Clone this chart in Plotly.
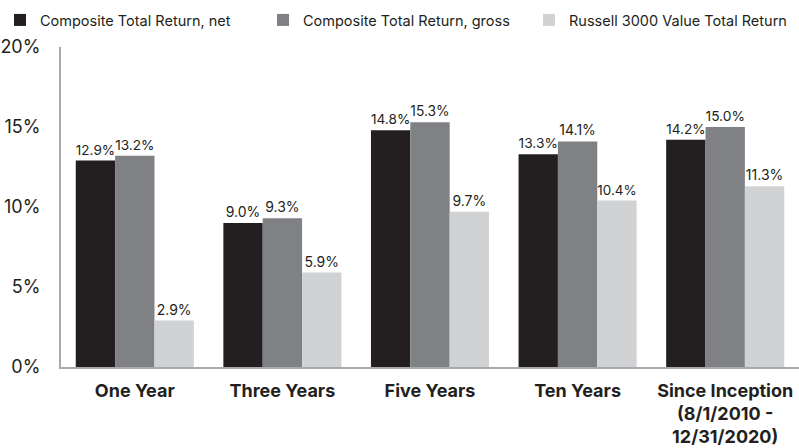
import plotly.graph_objects as go

categories = ["One Year", "Three Years", "Five Years", "Ten Years",
              "Since Inception<br>(8/1/2010 -<br>12/31/2020)"]
series_names = ["Composite Total Return, net", "Composite Total Return, gross",
                "Russell 3000 Value Total Return"]
net = [12.9, 9.0, 14.8, 13.3, 14.2]
gross = [13.2, 9.3, 15.3, 14.1, 15.0]
russell = [2.9, 5.9, 9.7, 10.4, 11.3]
colors = ["#231f20", "#808184", "#d1d2d4"]
tick_vals = [0, 5, 10, 15, 20]

FONT = "Inter, 'Open Sans', sans-serif"
TXT = "#231f20"

W, H = 799, 448

legend_keys = ["legend", "legend2", "legend3"]
legend_left = [0, 263, 529]  # left edge (px) of each legend box

fig = go.Figure()
for name, vals, col, lg in zip(series_names, [net, gross, russell], colors, legend_keys):
    fig.add_trace(go.Bar(
        name=name, x=categories, y=vals, marker_color=col, marker_line_width=0,
        text=[f"{v:.1f}%" for v in vals], textposition="outside",
        textfont=dict(size=14, color=TXT, family=FONT), cliponaxis=False,
        legend=lg,
    ))

legends = {}
for lg, lx in zip(legend_keys, legend_left):
    legends[lg] = dict(
        xref="container", yref="container",
        x=lx / W, y=1 - 20 / H,
        xanchor="left", yanchor="middle",
        font=dict(size=14.5, color=TXT, family=FONT),
        bgcolor="rgba(0,0,0,0)", itemwidth=30,
    )

fig.update_layout(
    barmode="group", bargap=0.2, bargroupgap=0,
    width=W, height=H,
    margin=dict(l=61, r=0, t=47, b=H - 367, autoexpand=False),
    plot_bgcolor="white", paper_bgcolor="white",
    font=dict(family=FONT, color=TXT),
    showlegend=True,
    xaxis=dict(showline=True, linecolor="#a7a9ac", linewidth=2,
               tickfont=dict(size=18, color=TXT, family=FONT, weight="bold"),
               ticks="", showgrid=False, ticklabelstandoff=6),
    yaxis=dict(range=[0, 20], tickvals=tick_vals,
               ticktext=[f"{v}%" for v in tick_vals],
               showline=True, linecolor="#a7a9ac", linewidth=2,
               showgrid=False, zeroline=False, ticks="",
               tickfont=dict(size=18, color=TXT, family=FONT),
               ticklabelstandoff=15),
    **legends,
)

fig.write_html("out.html", config={"displayModeBar": False},
               post_script="document.body.style.margin='0';")
